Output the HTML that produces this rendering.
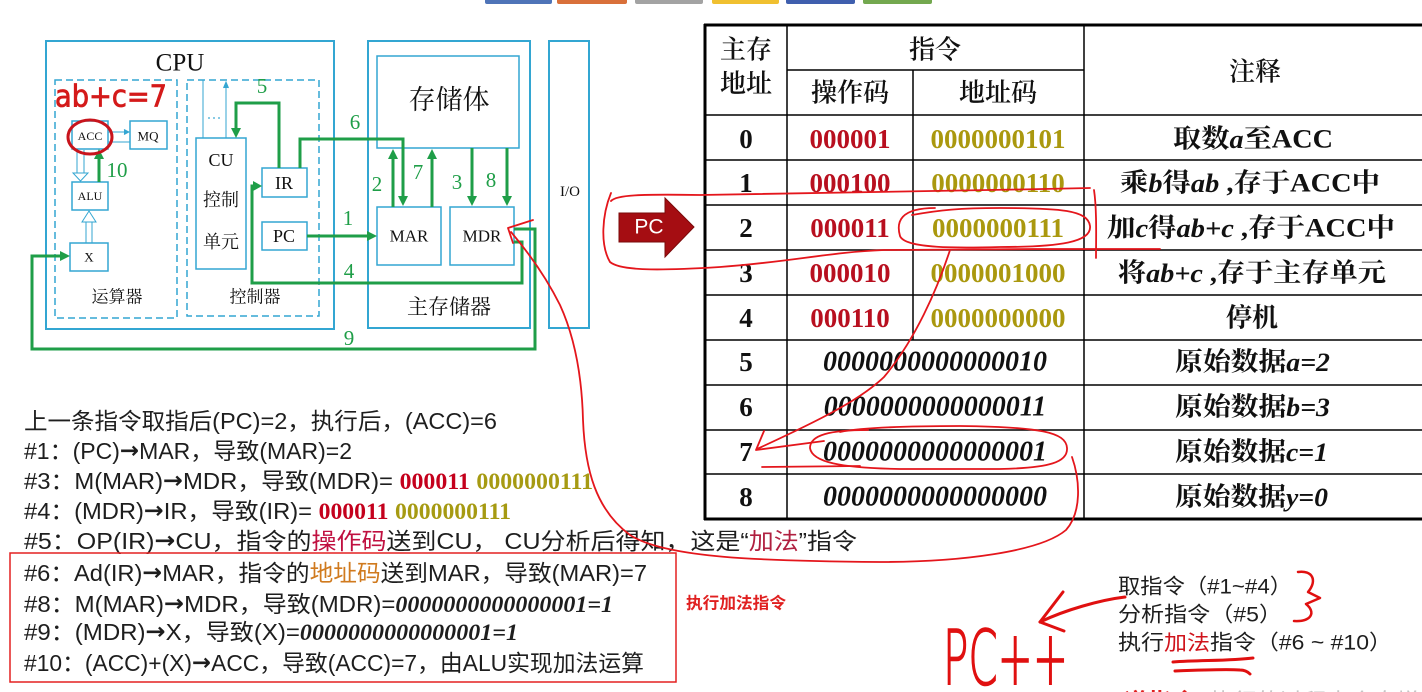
<!DOCTYPE html>
<html><head><meta charset="utf-8">
<style>
html,body{margin:0;padding:0;background:#fff;width:1422px;height:692px;overflow:hidden}
svg{display:block}
.cjk{font-family:"Liberation Sans","Noto Sans CJK SC",sans-serif}
</style></head><body>
<svg width="1422" height="692" viewBox="0 0 1422 692" xmlns="http://www.w3.org/2000/svg">
<!-- top toolbar buttons -->
<g>
<rect x="485" y="-4" width="67" height="8" rx="2" fill="#4f74b8"/>
<rect x="557" y="-4" width="70" height="8" rx="2" fill="#d9703a"/>
<rect x="635" y="-4" width="68" height="8" rx="2" fill="#a3a3a3"/>
<rect x="712" y="-4" width="67" height="8" rx="2" fill="#f0c030"/>
<rect x="786" y="-4" width="69" height="8" rx="2" fill="#3f5fae"/>
<rect x="863" y="-4" width="69" height="8" rx="2" fill="#73a84f"/>
</g>

<!-- ============ CPU DIAGRAM ============ -->
<g fill="none" stroke="#33a6d2" stroke-width="2">
<rect x="46" y="41" width="288" height="288"/>
<rect x="368" y="41" width="162" height="287"/>
<rect x="377" y="56" width="142" height="92" stroke-width="1.5"/>
<rect x="549" y="41" width="40" height="287"/>
</g>
<g fill="none" stroke="#33a6d2" stroke-width="1.5" stroke-dasharray="7,4">
<rect x="55" y="80" width="122" height="238"/>
<rect x="187" y="80" width="132" height="236"/>
</g>
<g fill="#fff" stroke="#33a6d2" stroke-width="1.5">
<rect x="72" y="121" width="36" height="28"/>
<rect x="130" y="121" width="37" height="28"/>
<rect x="72" y="182" width="36" height="28"/>
<rect x="70" y="243" width="38" height="28"/>
<rect x="196" y="138" width="50" height="131"/>
<rect x="262" y="168" width="45" height="29"/>
<rect x="262" y="222" width="45" height="28"/>
<rect x="377" y="207" width="64" height="58"/>
<rect x="450" y="207" width="64" height="58"/>
</g>
<!-- thin cyan connectors -->
<g stroke="#33a6d2" stroke-width="1" fill="none">
<line x1="108" y1="132" x2="127" y2="132"/>
<polyline points="124,129.5 129,132 124,134.5" fill="#33a6d2"/>
<line x1="108" y1="142" x2="130" y2="142"/>
<line x1="203" y1="80" x2="203" y2="138"/>
<line x1="226" y1="84" x2="226" y2="138"/>
<polyline points="223.5,88 226,82 228.5,88" fill="#33a6d2"/>
<!-- hollow arrows -->
<line x1="77" y1="150" x2="77" y2="173"/>
<line x1="84" y1="150" x2="84" y2="173"/>
<polygon points="73,173 88,173 80.5,181" fill="#fff"/>
<line x1="86" y1="222" x2="86" y2="243"/>
<line x1="92" y1="222" x2="92" y2="243"/>
<polygon points="82,222 96,222 89,211" fill="#fff"/>
</g>
<g fill="#33a6d2"><circle cx="209" cy="118" r="0.9"/><circle cx="214" cy="118" r="0.9"/><circle cx="219" cy="118" r="0.9"/></g>

<!-- diagram text -->
<g font-family="Liberation Serif, 'Noto Serif CJK SC', serif" fill="#111" text-anchor="middle" dominant-baseline="central">
<text x="180" y="63" font-size="25">CPU</text>
<text x="90" y="136" font-size="12">ACC</text>
<text x="148" y="136" font-size="13">MQ</text>
<text x="90" y="196" font-size="12">ALU</text>
<text x="89" y="257" font-size="13">X</text>
<text x="117" y="297" font-size="17">运算器</text>
<text x="221" y="160" font-size="18">CU</text>
<text x="221" y="200" font-size="18">控制</text>
<text x="221" y="242" font-size="18">单元</text>
<text x="255" y="297" font-size="17">控制器</text>
<text x="284" y="183" font-size="18">IR</text>
<text x="284" y="236" font-size="18">PC</text>
<text x="449" y="100" font-size="27">存储体</text>
<text x="409" y="236" font-size="17">MAR</text>
<text x="482" y="236" font-size="17">MDR</text>
<text x="449" y="307" font-size="21">主存储器</text>
<text x="570" y="192" font-size="15">I/O</text>
</g>

<!-- green data paths -->
<g fill="none" stroke="#1f9e48" stroke-width="3" stroke-linejoin="miter">
<line x1="99" y1="182" x2="99" y2="158"/>
<polyline points="279,168 279,103 236,103 236,129"/>
<polyline points="300,168 300,139 403,139 403,197"/>
<polyline points="307,236 368,236"/>
<polyline points="514,242 522,242 522,283 252,283 252,186 254,186"/>
<polyline points="514,229 535,229 535,349 32,349 32,256 61,256"/>
<line x1="393" y1="207" x2="393" y2="158"/>
<line x1="432" y1="207" x2="432" y2="158"/>
<line x1="472" y1="148" x2="472" y2="197"/>
<line x1="507" y1="148" x2="507" y2="197"/>
</g>
<g fill="#1f9e48">
<polygon points="94,159 99,149 104,159"/>
<polygon points="231,128 236,138 241,128"/>
<polygon points="398,196 403,206 408,196"/>
<polygon points="367,231 377,236 367,241"/>
<polygon points="253,181 262,186 253,191"/>
<polygon points="60,251 70,256 60,261"/>
<polygon points="388,159 393,149 398,159"/>
<polygon points="427,159 432,149 437,159"/>
<polygon points="467,196 472,206 477,196"/>
<polygon points="502,196 507,206 512,196"/>
</g>
<g font-family="Liberation Serif, serif" fill="#1f9e48" font-size="21" text-anchor="middle" dominant-baseline="central">
<text x="117" y="170">10</text>
<text x="262" y="86">5</text>
<text x="355" y="122">6</text>
<text x="348" y="218">1</text>
<text x="349" y="271">4</text>
<text x="349" y="338">9</text>
<text x="377" y="184">2</text>
<text x="418" y="172">7</text>
<text x="457" y="182">3</text>
<text x="491" y="180">8</text>
</g>

<!-- red annotations on diagram -->
<ellipse cx="90" cy="137" rx="22" ry="17" fill="none" stroke="#c8141c" stroke-width="3"/>
<text x="55" y="97" font-family="DejaVu Sans, sans-serif" font-size="30" fill="#d41a1a" stroke="#d41a1a" stroke-width="0.8" dominant-baseline="central" textLength="112" lengthAdjust="spacingAndGlyphs">ab+c=7</text>

<!-- PC block arrow -->
<polygon points="619,213 665,213 665,198 694,227 665,257 665,242 619,242" fill="#a50d12" stroke="#7a0a0a" stroke-width="1"/>
<text x="649" y="227" font-family="Liberation Sans, sans-serif" font-size="21" fill="#fff" text-anchor="middle" dominant-baseline="central">PC</text>

<!-- ============ TABLE ============ -->
<g stroke="#000" fill="none">
<line x1="705" y1="24" x2="705" y2="520" stroke-width="3"/>
<line x1="704" y1="25" x2="1422" y2="25" stroke-width="3"/>
<line x1="704" y1="519" x2="1422" y2="519" stroke-width="3"/>
<line x1="787" y1="25" x2="787" y2="519" stroke-width="1.5"/>
<line x1="1084" y1="25" x2="1084" y2="519" stroke-width="1.5"/>
<line x1="913" y1="70" x2="913" y2="340" stroke-width="1.5"/>
<line x1="787" y1="70" x2="1084" y2="70" stroke-width="1.5"/>
<g stroke-width="1.5">
<line x1="705" y1="115" x2="1422" y2="115"/>
<line x1="705" y1="160" x2="1422" y2="160"/>
<line x1="705" y1="205" x2="1422" y2="205"/>
<line x1="705" y1="250" x2="1422" y2="250"/>
<line x1="705" y1="295" x2="1422" y2="295"/>
<line x1="705" y1="340" x2="1422" y2="340"/>
<line x1="705" y1="385" x2="1422" y2="385"/>
<line x1="705" y1="430" x2="1422" y2="430"/>
<line x1="705" y1="474" x2="1422" y2="474"/>
</g>
</g>
<g font-family="Liberation Serif, 'Noto Serif CJK SC', serif" font-weight="bold" fill="#111" dominant-baseline="central">
<g font-size="26" text-anchor="middle" font-weight="600">
<text x="746" y="50">主存</text>
<text x="746" y="84">地址</text>
<text x="935" y="50">指令</text>
<text x="850" y="93">操作码</text>
<text x="998" y="93">地址码</text>
<text x="1255" y="72">注释</text>
</g>
<g font-size="27" text-anchor="middle">
<text x="746" y="139">0</text>
<text x="746" y="183">1</text>
<text x="746" y="228">2</text>
<text x="746" y="273">3</text>
<text x="746" y="318">4</text>
<text x="746" y="362">5</text>
<text x="746" y="407">6</text>
<text x="746" y="452">7</text>
<text x="746" y="497">8</text>
</g>
<g font-size="27" text-anchor="middle" fill="#b80f1f">
<text x="850" y="139">000001</text>
<text x="850" y="183">000100</text>
<text x="850" y="228">000011</text>
<text x="850" y="273">000010</text>
<text x="850" y="318">000110</text>
</g>
<g font-size="27" text-anchor="middle" fill="#aa980e">
<text x="998" y="139">0000000101</text>
<text x="998" y="183">0000000110</text>
<text x="998" y="228">0000000111</text>
<text x="998" y="273">0000001000</text>
<text x="998" y="318">0000000000</text>
</g>
<g font-size="28" text-anchor="middle" font-style="italic">
<text x="935" y="362">0000000000000010</text>
<text x="935" y="407">0000000000000011</text>
<text x="935" y="452">0000000000000001</text>
<text x="935" y="497">0000000000000000</text>
</g>
<g font-size="26">
<text x="1173" y="139" textLength="160" lengthAdjust="spacingAndGlyphs">取数<tspan font-style="italic">a</tspan>至ACC</text>
<text x="1120" y="183" textLength="260" lengthAdjust="spacingAndGlyphs">乘<tspan font-style="italic">b</tspan>得<tspan font-style="italic">ab</tspan> ,存于ACC中</text>
<text x="1107" y="228" textLength="288" lengthAdjust="spacingAndGlyphs">加<tspan font-style="italic">c</tspan>得<tspan font-style="italic">ab+c</tspan>  ,存于ACC中</text>
<text x="1118" y="273" textLength="268" lengthAdjust="spacingAndGlyphs">将<tspan font-style="italic">ab+c</tspan> ,存于主存单元</text>
<text x="1226" y="318">停机</text>
<text x="1175" y="362" textLength="155" lengthAdjust="spacingAndGlyphs">原始数据<tspan font-style="italic">a=2</tspan></text>
<text x="1175" y="407" textLength="155" lengthAdjust="spacingAndGlyphs">原始数据<tspan font-style="italic">b=3</tspan></text>
<text x="1175" y="452" textLength="153" lengthAdjust="spacingAndGlyphs">原始数据<tspan font-style="italic">c=1</tspan></text>
<text x="1175" y="497" textLength="153" lengthAdjust="spacingAndGlyphs">原始数据<tspan font-style="italic">y=0</tspan></text>
</g>
</g>

<!-- ============ LEFT TEXT ============ -->
<g class="cjk" font-size="23" fill="#1e1e1e" dominant-baseline="central">
<text x="24" y="421" textLength="473" lengthAdjust="spacingAndGlyphs">上一条指令取指后(PC)=2，执行后，(ACC)=6</text>
<text x="24" y="451" textLength="328" lengthAdjust="spacingAndGlyphs">#1：(PC)<tspan font-family="DejaVu Sans, sans-serif" font-weight="bold">→</tspan>MAR，导致(MAR)=2</text>
<text x="24" y="481" textLength="569" lengthAdjust="spacingAndGlyphs">#3：M(MAR)<tspan font-family="DejaVu Sans, sans-serif" font-weight="bold">→</tspan>MDR，导致(MDR)= <tspan font-family="Liberation Serif, serif" font-weight="bold" fill="#c4001c">000011</tspan> <tspan font-family="Liberation Serif, serif" font-weight="bold" fill="#a69a12">0000000111</tspan></text>
<text x="24" y="511" textLength="487" lengthAdjust="spacingAndGlyphs">#4：(MDR)<tspan font-family="DejaVu Sans, sans-serif" font-weight="bold">→</tspan>IR，导致(IR)= <tspan font-family="Liberation Serif, serif" font-weight="bold" fill="#c4001c">000011</tspan> <tspan font-family="Liberation Serif, serif" font-weight="bold" fill="#a69a12">0000000111</tspan></text>
<text x="24" y="541" textLength="833" lengthAdjust="spacingAndGlyphs">#5：OP(IR)<tspan font-family="DejaVu Sans, sans-serif" font-weight="bold">→</tspan>CU，指令的<tspan fill="#c01040">操作码</tspan>送到CU， CU分析后得知，这是“<tspan fill="#b02040">加法</tspan>”指令</text>
<text x="24" y="573" textLength="623" lengthAdjust="spacingAndGlyphs">#6：Ad(IR)<tspan font-family="DejaVu Sans, sans-serif" font-weight="bold">→</tspan>MAR，指令的<tspan fill="#d07a1e">地址码</tspan>送到MAR，导致(MAR)=7</text>
<text x="24" y="604" textLength="589" lengthAdjust="spacingAndGlyphs">#8：M(MAR)<tspan font-family="DejaVu Sans, sans-serif" font-weight="bold">→</tspan>MDR，导致(MDR)=<tspan font-family="Liberation Serif, serif" font-weight="bold" font-style="italic">0000000000000001=1</tspan></text>
<text x="24" y="632" textLength="494" lengthAdjust="spacingAndGlyphs">#9：(MDR)<tspan font-family="DejaVu Sans, sans-serif" font-weight="bold">→</tspan>X，导致(X)=<tspan font-family="Liberation Serif, serif" font-weight="bold" font-style="italic">0000000000000001=1</tspan></text>
<text x="24" y="663" textLength="620" lengthAdjust="spacingAndGlyphs">#10：(ACC)+(X)<tspan font-family="DejaVu Sans, sans-serif" font-weight="bold">→</tspan>ACC，导致(ACC)=7，由ALU实现加法运算</text>
</g>
<rect x="10" y="553" width="666" height="129" fill="none" stroke="#e42020" stroke-width="1.5"/>
<text x="686" y="604" class="cjk" font-size="16" font-weight="bold" fill="#e02020" dominant-baseline="central" textLength="100" lengthAdjust="spacingAndGlyphs">执行加法指令</text>

<!-- bottom right -->
<g class="cjk" font-size="21" fill="#1e1e1e" dominant-baseline="central">
<text x="1118" y="587" textLength="174" lengthAdjust="spacingAndGlyphs">取指令（#1~#4）</text>
<text x="1118" y="615" textLength="164" lengthAdjust="spacingAndGlyphs">分析指令（#5）</text>
<text x="1118" y="643" textLength="274" lengthAdjust="spacingAndGlyphs">执行<tspan fill="#d0141c">加法</tspan>指令（#6 ~ #10）</text>
</g>
<text x="1100" y="703" class="cjk" font-size="24" font-weight="bold" fill="#e02020" textLength="96" lengthAdjust="spacingAndGlyphs" dominant-baseline="central">三道指令</text>
<text x="1210" y="703" class="cjk" font-size="24" fill="#c4c4c4" textLength="210" lengthAdjust="spacingAndGlyphs" dominant-baseline="central">执行的过程中会自增</text>

<text x="943" y="658" font-family="DejaVu Sans, sans-serif" font-weight="200" font-size="76" fill="#e01010" stroke="#e01010" stroke-width="1.6" dominant-baseline="central" textLength="125" lengthAdjust="spacingAndGlyphs">PC++</text>

<!-- red hand-drawn strokes -->
<g fill="none" stroke="#e4161c" stroke-width="1.8" stroke-linecap="round" stroke-linejoin="round">
<path d="M611,201 C616,195 640,194 700,195 C800,194 950,191 1090,188 M1094,190 C1097,210 1096,240 1096,258"/>
<path d="M611,193 C602,215 600,245 610,262 C622,272 670,270 720,267 C790,262 830,252 884,250 C950,249 1080,249 1160,249"/>
<path d="M935,208 C900,208 896,222 900,236 C905,249 960,248 1000,247 C1060,247 1092,242 1090,226 C1088,210 1060,208 1000,208 C960,208 940,210 912,215"/>
<path d="M950,250 C937,290 915,340 884,377 C860,400 820,420 757,449"/>
<path d="M764,431 L756,450 L824,441"/>
<path d="M868,430 C830,430 810,435 810,448 C812,462 840,468 900,469 L1000,469 C1050,468 1068,462 1067,448 C1066,432 1040,427 960,426 C900,426 860,428 840,432"/>
<path d="M762,467 L860,466"/>
<path d="M533,220 L508,228 L513,243 M511,232 C528,252 545,275 560,305 C576,340 582,380 583,420 C585,470 596,510 630,535 C665,558 760,561 880,562 C960,562 1040,552 1066,530 C1082,512 1080,480 1072,457"/>
</g>
<g fill="none" stroke="#e01010" stroke-width="3" stroke-linecap="round" stroke-linejoin="round">
<path d="M1125,597 C1100,600 1065,610 1040,622"/>
<path d="M1063,592 L1040,622 L1064,631"/>
<path d="M1298,572 C1312,570 1318,580 1308,592 L1320,598 L1306,604 C1316,612 1312,622 1294,621" stroke-width="2.5"/>
<path d="M1173,662 C1200,660 1230,661 1253,658"/>
<path d="M1175,671 C1200,670 1225,669 1240,670 C1245,670 1248,672 1250,674"/>
</g>
</svg>
</body></html>
